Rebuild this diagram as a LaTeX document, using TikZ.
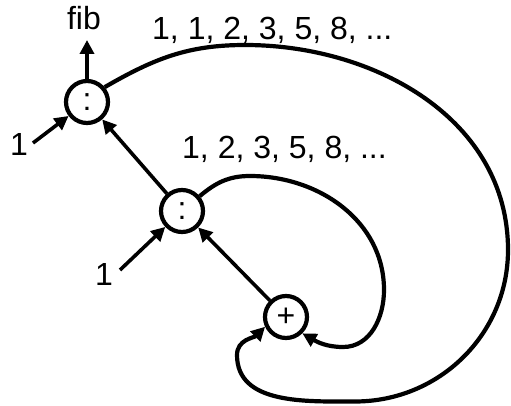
\documentclass[tikz,border=0pt]{standalone}
\usepackage{fontspec}
\setmainfont{Liberation Sans}
\usetikzlibrary{arrows.meta}
\begin{document}
\begin{tikzpicture}[x=1pt,y=1pt,
  every node/.style={font=\fontsize{32}{38}\selectfont},
  op/.style={draw,circle,line width=4.2pt,minimum size=42pt,inner sep=0pt},
  lbl/.style={inner sep=0pt},
  arr/.style={line width=3.6pt,-{Triangle[length=14pt,width=14pt]}},
  loop/.style={line width=4.2pt,-{Triangle[length=14pt,width=14pt]}}]
\useasboundingbox (0,0) rectangle (511,405);
\node[op] (A) at (87,303) {:};
\node[op] (B) at (182,194) {:};
\node[op] (C) at (286,88) {+};
\node[lbl,anchor=base] (fib) at (84,375) {fib};
\node[lbl,anchor=base west] (seq1) at (152,365) {1, 1, 2, 3, 5, 8, ...};
\node[lbl,anchor=base west] (seq2) at (182,247) {1, 2, 3, 5, 8, ...};
\node[lbl,anchor=base west] (one1) at (10,250) {1};
\node[lbl,anchor=base west] (one2) at (95,120) {1};
\coordinate (fibtip) at (87,365);
\coordinate (s1) at (33,262);
\coordinate (s2) at (120,135);
\coordinate (otop) at (245,360);
\coordinate (oright) at (508,155);
\coordinate (obot) at (355,3.5);
\coordinate (oleft) at (237,50);
\coordinate (itop) at (250,229);
\coordinate (iright) at (384,115);
\coordinate (ibot) at (343,58);
\draw[arr] (A) -- (fibtip);
\draw[arr] (s1) -- (A);
\draw[arr] (s2) -- (B);
\draw[arr] (B) -- (A);
\draw[arr] (C) -- (B);
\draw[loop] (A.40) to[out=30,in=180] (otop) to[out=0,in=90] (oright)
  to[out=-90,in=0] (obot) to[out=180,in=-90] (oleft) to[out=90,in=-135] (C.205);
\draw[loop] (B.40) to[out=40,in=180] (itop) to[out=0,in=90] (iright)
  to[out=-90,in=0] (ibot) to[out=180,in=-30] (C.-45);
\end{tikzpicture}
\end{document}
